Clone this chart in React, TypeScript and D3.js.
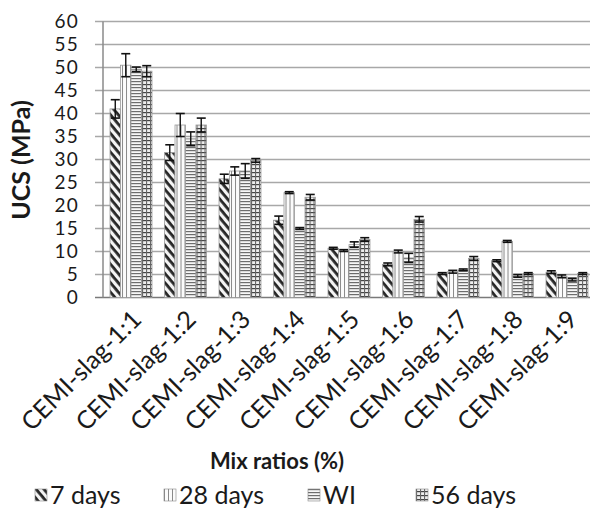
import React from "react";
import * as d3 from "d3";

const categories = [
  "CEMI-slag-1:1", "CEMI-slag-1:2", "CEMI-slag-1:3", "CEMI-slag-1:4", "CEMI-slag-1:5",
  "CEMI-slag-1:6", "CEMI-slag-1:7", "CEMI-slag-1:8", "CEMI-slag-1:9",
];
const seriesNames = ["7 days", "28 days", "WI", "56 days"];

const days7 = [41, 31.5, 25.8, 16.8, 10.7, 7.2, 5.2, 8, 5.5];
const days28 = [50.5, 37.5, 27.5, 22.8, 10.2, 10, 5.6, 12.2, 4.6];
const wi = [49.6, 34.5, 27.5, 15, 11.5, 8.6, 6, 4.7, 3.9];
const days56 = [49.2, 37.5, 29.8, 21.8, 12.6, 17, 8.5, 5.2, 5.2];

const err7 = [2, 1.7, 1, 0.9, 0.2, 0.3, 0.2, 0.2, 0.3];
const err28 = [2.5, 2.5, 0.9, 0.2, 0.2, 0.3, 0.3, 0.2, 0.3];
const errWi = [0.5, 1.5, 1.6, 0.2, 0.6, 1, 0.2, 0.3, 0.3];
const err56 = [1.2, 1.5, 0.4, 0.6, 0.4, 0.6, 0.4, 0.2, 0.2];

const yTicks = [0, 5, 10, 15, 20, 25, 30, 35, 40, 45, 50, 55, 60];

const W = 592, H = 509;
const font = "Lato, 'Open Sans', sans-serif";
const patIds = ["p7", "p28", "pwi", "p56"];

export default function App() {
  const values = [days7, days28, wi, days56];
  const errs = [err7, err28, errWi, err56];

  const x = d3.scaleBand().domain(categories).range([103.75, 594.25])
    .paddingInner(0.23).paddingOuter(0.115);
  const xs = d3.scaleBand().domain(seriesNames).range([0, x.bandwidth()]);
  const y = d3.scaleLinear().domain([0, 60]).range([297.5, 21.5]);

  return (
    <svg width={W} height={H} style={{ position: "absolute", left: 0, top: 0 }} fontFamily={font}>
      <defs>
        <pattern id="p7" patternUnits="userSpaceOnUse" width="6" height="6" patternTransform="rotate(50)">
          <rect width="6" height="6" fill="#f4f4f4" />
          <rect y="0" width="6" height="2.8" fill="#262626" />
        </pattern>
        <pattern id="p28" patternUnits="userSpaceOnUse" width="4" height="4">
          <rect width="4" height="4" fill="#fbfbfb" />
          <rect x="0" width="1" height="4" fill="#8a8a8a" />
        </pattern>
        <pattern id="pwi" patternUnits="userSpaceOnUse" width="3" height="3">
          <rect width="3" height="3" fill="#f6f6f6" />
          <rect y="0" width="3" height="1.2" fill="#6d6d6d" />
        </pattern>
        <pattern id="p56" patternUnits="userSpaceOnUse" width="4" height="4">
          <rect width="4" height="4" fill="#eeeeee" />
          <rect y="0" width="4" height="1.2" fill="#444" />
          <rect x="0" width="1.1" height="4" fill="#666" />
        </pattern>
      </defs>

      {/* gridlines */}
      {yTicks.map((t) => (
        <g key={t}>
          <line x1={95} x2={590} y1={y(t)} y2={y(t)} stroke={t === 0 ? "#7a7a7a" : "#a8a8a8"} strokeWidth={1.5} />
          <text x={79} y={y(t)} dy="0.36em" textAnchor="end" fontSize={19} letterSpacing={1.2} fill="#1a1a1a">{t}</text>
        </g>
      ))}
      <line x1={103} x2={103} y1={y(60)} y2={y(0)} stroke="#8a8a8a" strokeWidth={1.5} />

      {/* bars */}
      {categories.map((c, i) => (
        <g key={c} transform={`translate(${x(c)},0)`}>
          {seriesNames.map((s, k) => {
            const v = values[k][i];
            const e = errs[k][i];
            const bx = xs(s)!;
            const cx = bx + xs.bandwidth() / 2;
            return (
              <g key={s}>
                <rect x={bx} y={y(v)} width={xs.bandwidth()} height={y(0) - y(v)}
                  fill={`url(#${patIds[k]})`} stroke="#9a9a9a" strokeWidth={0.8} />
                <line x1={cx} x2={cx} y1={y(v + e)} y2={y(v - e)} stroke="#111" strokeWidth={1.4} />
                <line x1={cx - 4.5} x2={cx + 4.5} y1={y(v + e)} y2={y(v + e)} stroke="#111" strokeWidth={1.6} />
                <line x1={cx - 4.5} x2={cx + 4.5} y1={y(v - e)} y2={y(v - e)} stroke="#111" strokeWidth={1.6} />
              </g>
            );
          })}
          <text transform={`translate(${x.bandwidth() / 2 + 12},${321}) rotate(-45)`} textAnchor="end"
            fontSize={25} fill="#1a1a1a">{c}</text>
        </g>
      ))}

      <text transform={`translate(${30},${160}) rotate(-90)`} textAnchor="middle" fontSize={25}
        fontWeight="bold" fill="#1a1a1a">UCS (MPa)</text>
      <text x={277} y={469} textAnchor="middle" fontSize={22} fontWeight="bold" fill="#1a1a1a">Mix ratios (%)</text>

      {/* legend */}
      {seriesNames.map((s, k) => {
        const lx = [35, 164, 308, 416][k];
        return (
          <g key={s} transform={`translate(${lx},${495})`}>
            <rect x={0} y={-6} width={12} height={12} fill={`url(#${patIds[k]})`} stroke="#888" strokeWidth={0.6} />
            <text x={15} y={0} dy="0.36em" fontSize={25} fill="#1a1a1a">{s}</text>
          </g>
        );
      })}
    </svg>
  );
}
